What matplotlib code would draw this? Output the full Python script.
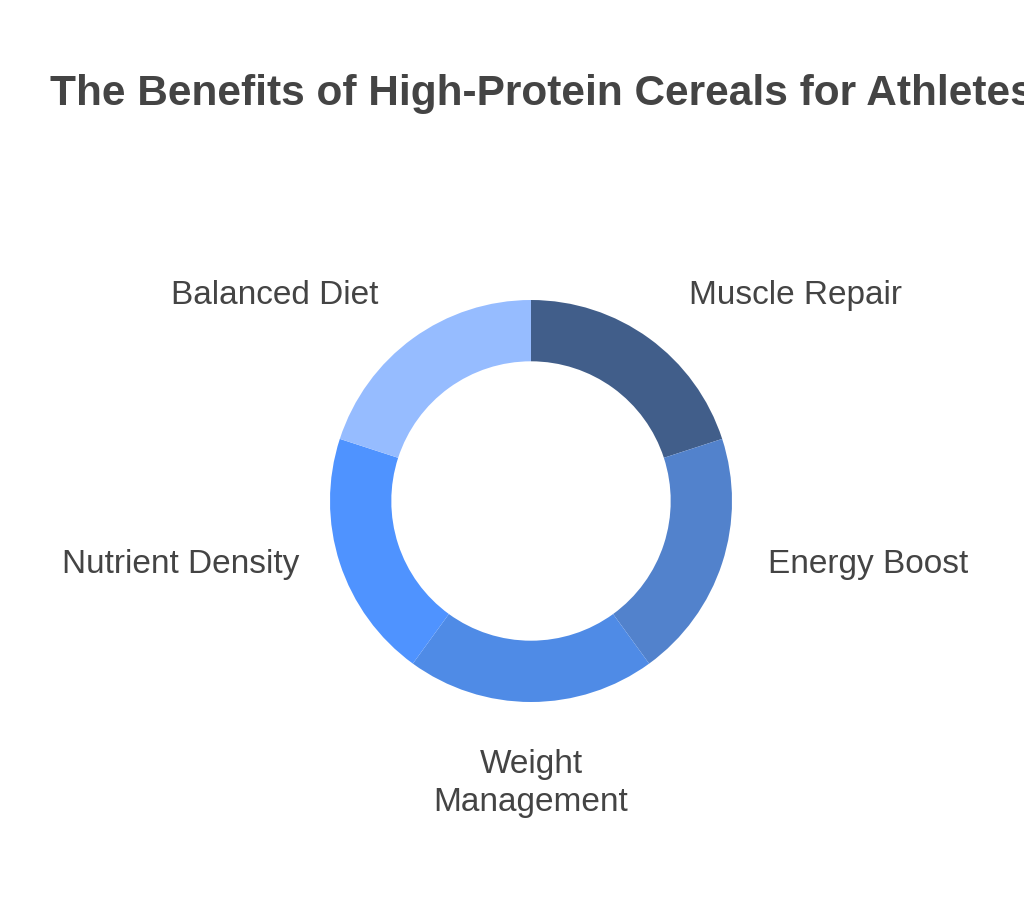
import matplotlib.pyplot as plt
import numpy as np

plt.rcParams['font.family'] = ['Liberation Sans', 'DejaVu Sans']

labels = ['Muscle Repair', 'Energy Boost', 'Weight\nManagement', 'Nutrient Density', 'Balanced Diet']
values = [20, 20, 20, 20, 20]
colors = ['#415E8A', '#5282CC', '#4F8BE6', '#4F93FF', '#96BCFF']

W, H = 1024, 904
fig = plt.figure(figsize=(W / 100, H / 100), dpi=100)

# donut: center (531, 502) px, radius ~201 px
cx, cy, r = 531, 502, 201
ax = fig.add_axes([(cx - 1.6 * r) / W, (H - cy - 1.6 * r) / H, 3.2 * r / W, 3.2 * r / H])

wedges, _ = ax.pie(values, colors=colors, startangle=90, counterclock=False,
                   radius=1.0, wedgeprops=dict(width=0.305, edgecolor='none'))
ax.set_xlim(-1.6, 1.6)
ax.set_ylim(-1.6, 1.6)
ax.set_aspect('equal')
ax.axis('off')

# labels sit just outside the ring, aligned away from the centre
for w, lab in zip(wedges, labels):
    ang = np.deg2rad((w.theta1 + w.theta2) / 2)
    c, s = np.cos(ang), np.sin(ang)
    x, y = c, s
    if c > 0.1:
        ha, x = 'left', c + (0.23 if abs(s) < 0.5 else 0.2)
    elif c < -0.1:
        ha, x = 'right', c - (0.2 if abs(s) < 0.5 else 0.17)
    else:
        ha = 'center'
    if s > 0.5:
        va, y = 'bottom', s + 0.14
    elif s < -0.5:
        va, y = 'top', s - 0.23
    else:
        va = 'center'
    ax.text(x, y, lab, ha=ha, va=va, fontsize=24, color='#444444',
            linespacing=1.28, multialignment='center')

fig.text(50 / W, 1 - 105 / H, 'The Benefits of High-Protein Cereals for Athletes',
         ha='left', va='baseline', fontsize=30.5, fontweight='bold', color='#444444')

fig.savefig('out.png', dpi=100, facecolor='white')
